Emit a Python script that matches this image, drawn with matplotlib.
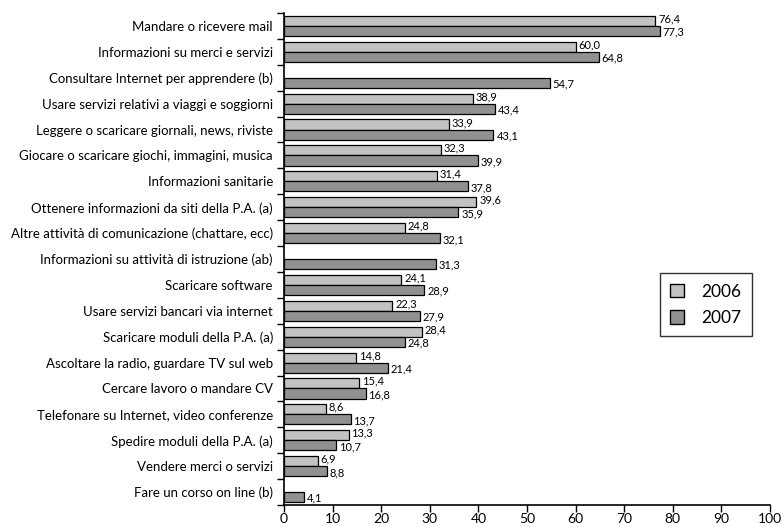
import numpy as np
import matplotlib.pyplot as plt
from matplotlib.patches import Patch

plt.rcParams['font.family'] = ['Lato', 'DejaVu Sans']

categorie = [
    'Mandare o ricevere mail',
    'Informazioni su merci e servizi',
    'Consultare Internet per apprendere (b)',
    'Usare servizi relativi a viaggi e soggiorni',
    'Leggere o scaricare giornali, news, riviste',
    'Giocare o scaricare giochi, immagini, musica',
    'Informazioni sanitarie',
    'Ottenere informazioni da siti della P.A. (a)',
    'Altre attività di comunicazione (chattare, ecc)',
    'Informazioni su attività di istruzione (ab)',
    'Scaricare software',
    'Usare servizi bancari via internet',
    'Scaricare moduli della P.A. (a)',
    'Ascoltare la radio, guardare TV sul web',
    'Cercare lavoro o mandare CV',
    'Telefonare su Internet, video conferenze',
    'Spedire moduli della P.A. (a)',
    'Vendere merci o servizi',
    'Fare un corso on line (b)',
]
val_2006 = [76.4, 60.0, None, 38.9, 33.9, 32.3, 31.4, 39.6, 24.8, None,
            24.1, 22.3, 28.4, 14.8, 15.4, 8.6, 13.3, 6.9, None]
val_2007 = [77.3, 64.8, 54.7, 43.4, 43.1, 39.9, 37.8, 35.9, 32.1, 31.3,
            28.9, 27.9, 24.8, 21.4, 16.8, 13.7, 10.7, 8.8, 4.1]

fig = plt.figure(figsize=(7.83, 5.27), dpi=100)
ax = fig.add_axes([0.3627, 0.0417, 0.6207, 0.9336])

n = len(categorie)
y = np.arange(n)
h = 0.39

def fmt(v):
    return f'{v:.1f}'.replace('.', ',')

for i in range(n):
    if val_2006[i] is not None:
        ax.barh(y[i] - h / 2, val_2006[i], height=h, color='#c2c2c2',
                edgecolor='black', linewidth=0.9)
        ax.text(val_2006[i] + 0.6, y[i] - h / 2 - 0.08, fmt(val_2006[i]),
                fontsize=8, va='center', ha='left')
    ax.barh(y[i] + h / 2, val_2007[i], height=h, color='#919191',
            edgecolor='black', linewidth=0.9)
    ax.text(val_2007[i] + 0.6, y[i] + h / 2 + 0.05, fmt(val_2007[i]),
            fontsize=8, va='center', ha='left')

ax.set_ylim(n - 0.5, -0.5)
ax.set_xlim(0, 100)
ax.set_yticks(y)
ax.set_yticklabels(categorie, fontsize=9.5)
ax.tick_params(axis='y', length=0, pad=8)
ax.set_yticks(np.arange(-0.5, n, 1), minor=True)
ax.tick_params(axis='y', which='minor', length=5, width=1)
ax.set_xticks(np.arange(0, 101, 10))
ax.tick_params(axis='x', length=5, width=1, labelsize=10, pad=1)

for s in ['top', 'right']:
    ax.spines[s].set_visible(False)
ax.spines['left'].set_linewidth(1.2)
ax.spines['bottom'].set_linewidth(1.2)

handles = [Patch(facecolor='#c2c2c2', edgecolor='black', label='2006'),
           Patch(facecolor='#919191', edgecolor='black', label='2007')]
leg = ax.legend(handles=handles, loc='center', bbox_to_anchor=(0.868, 0.407),
                fontsize=12.5, fancybox=False, edgecolor='black',
                handlelength=0.8, handleheight=0.8, labelspacing=0.6,
                borderpad=0.6, handletextpad=1.0)
leg.get_frame().set_linewidth(1)

fig.savefig('out.png', dpi=100)
